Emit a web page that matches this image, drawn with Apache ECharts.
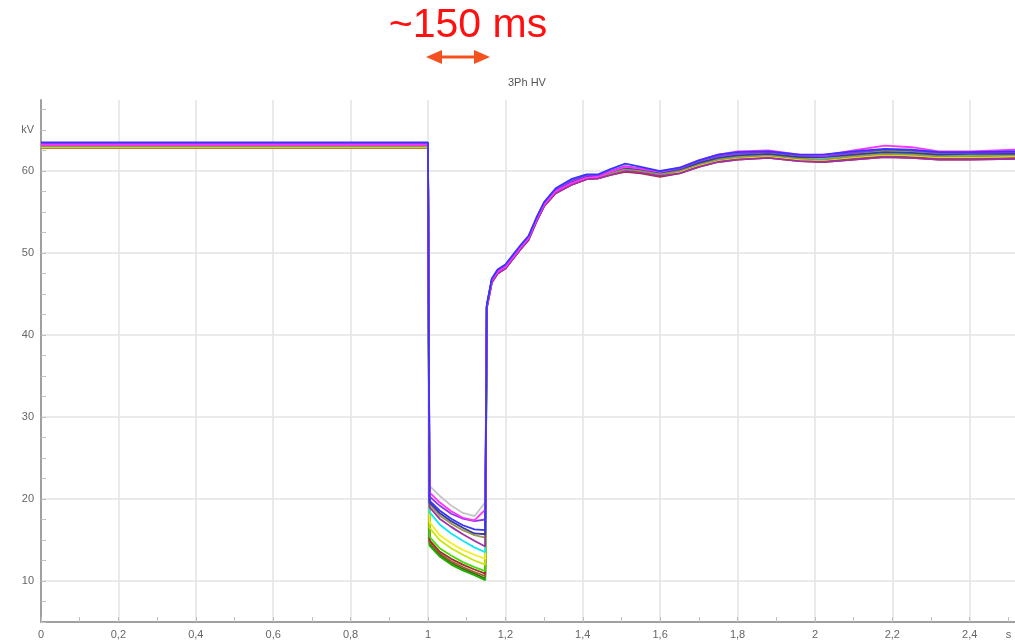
<!DOCTYPE html>
<html>
<head>
<meta charset="utf-8">
<script src="https://cdn.jsdelivr.net/npm/echarts@6/dist/echarts.min.js"></script>
<style>
html, body { margin: 0; padding: 0; background: #fff; }
#main { width: 1015px; height: 644px; }
</style>
</head>
<body>
<div id="main"></div>
<script>
// sample times (s)
var times = [0, 1.0, 1.004, 1.03, 1.06, 1.09, 1.12, 1.148,
    1.152, 1.165, 1.18, 1.2, 1.22, 1.24, 1.26, 1.28, 1.3, 1.33, 1.37, 1.41, 1.44, 1.47, 1.51, 1.55,
    1.6, 1.65, 1.7, 1.75, 1.8, 1.88, 1.96, 2.02, 2.1, 2.18, 2.25, 2.32, 2.4, 2.52];

// kV per trace: pre-fault, dip, recovery
var grey = [63.1, 63.1, 21.6, 20.4, 19.2, 18.3, 17.9, 19.6,
    43.6, 46.7, 47.8, 48.4, 49.6, 50.8, 51.9, 54.1, 56.0, 57.6, 58.6, 59.3, 59.4, 59.9, 60.5, 60.3,
    59.9, 60.3, 61.1, 61.7, 62.0, 62.2, 61.8, 61.7, 62.1, 62.4, 62.3, 62.1, 62.1, 62.2];
var magenta = [63.2, 63.2, 20.8, 19.6, 18.5, 17.7, 17.4, 18.7,
    43.5, 46.6, 47.7, 48.3, 49.5, 50.7, 51.8, 54.0, 55.9, 57.5, 58.5, 59.2, 59.3, 59.9, 60.5, 60.3,
    59.9, 60.4, 61.3, 62.0, 62.4, 62.5, 62.0, 61.9, 62.5, 63.1, 62.9, 62.4, 62.4, 62.6];
var violet = [63.3, 63.3, 20.3, 19.2, 18.2, 17.6, 17.3, 17.5,
    43.6, 46.8, 47.9, 48.5, 49.7, 50.9, 52.0, 54.2, 56.1, 57.7, 58.8, 59.5, 59.5, 60.0, 60.6, 60.3,
    59.9, 60.3, 61.2, 61.8, 62.1, 62.3, 61.9, 61.8, 62.2, 62.6, 62.5, 62.2, 62.2, 62.3];
var blue = [63.5, 63.5, 19.8, 18.6, 17.6, 16.8, 16.3, 16.2,
    43.7, 46.9, 48.0, 48.6, 49.8, 51.0, 52.1, 54.3, 56.2, 57.9, 59.0, 59.6, 59.6, 60.2, 60.9, 60.5,
    60.0, 60.4, 61.3, 62.0, 62.3, 62.4, 62.0, 62.0, 62.4, 62.7, 62.6, 62.3, 62.3, 62.4];
var navy = [63.4, 63.4, 19.6, 18.3, 17.3, 16.5, 15.8, 15.7,
    43.5, 46.7, 47.8, 48.4, 49.6, 50.8, 51.9, 54.1, 56.0, 57.6, 58.6, 59.3, 59.4, 59.9, 60.4, 60.2,
    59.8, 60.2, 61.0, 61.6, 61.9, 62.1, 61.7, 61.7, 62.0, 62.3, 62.2, 62.0, 62.1, 62.1];
var olive = [63.0, 63.0, 19.4, 18.0, 17.0, 16.2, 15.6, 15.3,
    43.4, 46.5, 47.6, 48.2, 49.4, 50.6, 51.7, 53.9, 55.8, 57.4, 58.4, 59.1, 59.2, 59.7, 60.2, 60.0,
    59.6, 60.0, 60.8, 61.4, 61.7, 61.9, 61.5, 61.4, 61.8, 62.1, 62.0, 61.8, 61.8, 61.9];
var purple = [63.2, 63.2, 19.0, 17.6, 16.6, 15.7, 14.9, 14.2,
    43.3, 46.4, 47.5, 48.1, 49.3, 50.5, 51.6, 53.8, 55.7, 57.3, 58.3, 59.0, 59.1, 59.5, 60.0, 59.8,
    59.4, 59.7, 60.5, 61.1, 61.4, 61.6, 61.2, 61.1, 61.4, 61.7, 61.6, 61.4, 61.4, 61.5];
var cyan = [63.0, 63.0, 18.4, 16.9, 15.8, 14.9, 14.1, 13.5,
    43.5, 46.6, 47.7, 48.3, 49.5, 50.7, 51.8, 54.0, 55.9, 57.5, 58.5, 59.2, 59.3, 59.8, 60.3, 60.1,
    59.7, 60.1, 60.9, 61.5, 61.8, 62.0, 61.6, 61.5, 61.9, 62.2, 62.1, 61.9, 61.9, 62.0];
var yellow = [62.9, 62.9, 17.2, 15.6, 14.6, 13.8, 13.2, 12.7,
    43.4, 46.5, 47.6, 48.2, 49.4, 50.6, 51.7, 53.9, 55.8, 57.4, 58.4, 59.1, 59.2, 59.6, 60.1, 59.9,
    59.5, 59.9, 60.7, 61.3, 61.6, 61.8, 61.4, 61.3, 61.7, 62.0, 61.9, 61.7, 61.7, 61.8];
var lime = [62.9, 62.9, 16.5, 15.0, 14.0, 13.2, 12.5, 12.0,
    43.5, 46.6, 47.7, 48.3, 49.5, 50.7, 51.8, 54.0, 55.9, 57.5, 58.5, 59.2, 59.3, 59.8, 60.4, 60.2,
    59.8, 60.2, 61.0, 61.6, 61.9, 62.1, 61.7, 61.6, 62.0, 62.3, 62.2, 62.0, 62.0, 62.1];
var bright = [63.0, 63.0, 15.4, 14.0, 13.1, 12.3, 11.7, 11.2,
    43.5, 46.7, 47.8, 48.4, 49.6, 50.8, 51.9, 54.1, 56.0, 57.6, 58.6, 59.3, 59.4, 59.9, 60.5, 60.3,
    59.9, 60.3, 61.2, 61.8, 62.1, 62.3, 61.9, 61.8, 62.2, 62.5, 62.4, 62.2, 62.2, 62.3];
var darkred = [62.8, 62.8, 15.0, 13.6, 12.7, 12.0, 11.4, 10.9,
    43.3, 46.4, 47.5, 48.1, 49.3, 50.5, 51.6, 53.8, 55.7, 57.3, 58.3, 59.0, 59.1, 59.5, 59.9, 59.7,
    59.3, 59.7, 60.5, 61.1, 61.4, 61.6, 61.2, 61.1, 61.4, 61.7, 61.6, 61.4, 61.4, 61.5];
var brown = [62.8, 62.8, 14.8, 13.4, 12.4, 11.7, 11.1, 10.6,
    43.3, 46.4, 47.5, 48.1, 49.3, 50.5, 51.6, 53.8, 55.7, 57.3, 58.3, 59.0, 59.1, 59.6, 60.0, 59.8,
    59.4, 59.8, 60.6, 61.2, 61.5, 61.7, 61.3, 61.2, 61.5, 61.8, 61.7, 61.5, 61.5, 61.6];
var darkgreen = [62.9, 62.9, 14.5, 13.2, 12.2, 11.5, 10.9, 10.3,
    43.4, 46.5, 47.6, 48.2, 49.4, 50.6, 51.7, 53.9, 55.8, 57.4, 58.4, 59.1, 59.2, 59.7, 60.2, 60.0,
    59.6, 60.0, 60.7, 61.3, 61.6, 61.8, 61.4, 61.3, 61.7, 62.0, 61.9, 61.7, 61.7, 61.8];
var green = [63.0, 63.0, 14.3, 13.0, 12.0, 11.3, 10.7, 10.1,
    43.5, 46.6, 47.7, 48.3, 49.5, 50.7, 51.8, 54.0, 55.9, 57.5, 58.5, 59.2, 59.3, 59.8, 60.4, 60.2,
    59.8, 60.2, 61.1, 61.7, 62.0, 62.2, 61.8, 61.7, 62.1, 62.4, 62.3, 62.1, 62.1, 62.2];

var xGrid = [0.2, 0.4, 0.6, 0.8, 1, 1.2, 1.4, 1.6, 1.8, 2, 2.2, 2.4];
var yGrid = [10, 20, 30, 40, 50, 60];

var traces = [
    ['grey', grey, '#c4c4c4'],
    ['darkgreen', darkgreen, '#2f6b10'],
    ['green', green, '#22b000'],
    ['brown', brown, '#9a6030'],
    ['darkred', darkred, '#a03030'],
    ['bright', bright, '#44dd00'],
    ['lime', lime, '#c6e800'],
    ['yellow', yellow, '#f2ee20'],
    ['cyan', cyan, '#10e6f6'],
    ['olive', olive, '#9a9a48'],
    ['purple', purple, '#a030a8'],
    ['navy', navy, '#3a3a9a'],
    ['violet', violet, '#8a3ae8'],
    ['magenta', magenta, '#ff33ff'],
    ['blue', blue, '#3535ff']
];

var chart = echarts.init(document.getElementById('main'));

// grid lines as marker lines behind the traces
var series = [{
    name: 'grid',
    type: 'line',
    data: [],
    z: 0,
    silent: true,
    markLine: {
        z: 0,
        silent: true,
        symbol: 'none',
        label: { show: false },
        lineStyle: { color: '#e3e3e3', width: 1.5, type: 'solid' },
        data: xGrid.map(function (v) { return { xAxis: v }; })
            .concat(yGrid.map(function (v) { return { yAxis: v }; }))
    }
}];
traces.forEach(function (t) {
    series.push({
        name: t[0],
        type: 'line',
        z: 3,
        showSymbol: false,
        symbol: 'none',
        data: times.map(function (x, i) { return [x, t[1][i]]; }),
        lineStyle: { color: t[2], width: 1.8 },
        itemStyle: { color: t[2] }
    });
});

var option = {
    animation: false,
    backgroundColor: '#fff',
    title: {
        text: '3Ph HV',
        left: 503,
        top: 72,
        textStyle: { fontSize: 11, fontWeight: 'normal', color: '#555', fontFamily: 'Liberation Sans' }
    },
    grid: { left: 41, right: 0, top: 100, bottom: 22, containLabel: false },
    xAxis: {
        type: 'value',
        min: 0,
        max: 2.517,
        interval: 0.1,
        axisLine: { lineStyle: { color: '#a0a0a0', width: 2 } },
        axisTick: { inside: true, length: 5, lineStyle: { color: '#c0c0c0' } },
        splitLine: { show: false },
        axisLabel: {
            color: '#666',
            fontSize: 11,
            fontFamily: 'Liberation Sans',
            margin: 7,
            showMaxLabel: false,
            formatter: function (v) {
                var k = Math.round(v * 10);
                if (k === 25) return 's';
                if (k % 2 !== 0) return '';
                return String(k / 10).replace('.', ',');
            }
        }
    },
    yAxis: {
        type: 'value',
        min: 5,
        max: 68.66,
        interval: 2.5,
        axisLine: { show: true, lineStyle: { color: '#a0a0a0', width: 2 } },
        axisTick: { show: true, inside: true, length: 5, lineStyle: { color: '#c0c0c0' } },
        splitLine: { show: false },
        axisLabel: {
            color: '#666',
            fontSize: 11,
            fontFamily: 'Liberation Sans',
            margin: 7,
            showMaxLabel: false,
            formatter: function (v) {
                if (v === 65) return 'kV';
                if (v % 10 === 0) return String(v);
                return '';
            }
        }
    },
    graphic: [
        {
            type: 'text',
            x: 468, y: 26,
            style: {
                text: '~150 ms',
                fill: '#ff1010',
                font: '41px "Liberation Sans", Arial, sans-serif',
                textAlign: 'center',
                textVerticalAlign: 'middle'
            }
        },
        {
            type: 'line',
            shape: { x1: 440, y1: 57, x2: 476, y2: 57 },
            style: { stroke: '#f4511e', lineWidth: 3 }
        },
        {
            type: 'polygon',
            shape: { points: [[426, 57], [442, 50], [442, 64]] },
            style: { fill: '#f4511e' }
        },
        {
            type: 'polygon',
            shape: { points: [[490, 57], [474, 50], [474, 64]] },
            style: { fill: '#f4511e' }
        }
    ],
    series: series
};

chart.setOption(option);
</script>
</body>
</html>
